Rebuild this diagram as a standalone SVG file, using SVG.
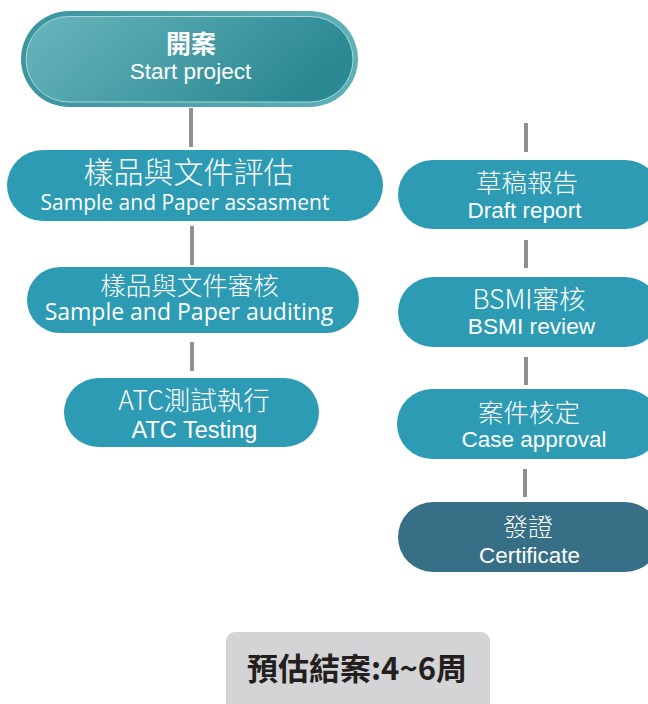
<svg xmlns="http://www.w3.org/2000/svg" width="648" height="704" viewBox="0 0 648 704">
<defs>
<linearGradient id="gStart" x1="0" y1="0" x2="1" y2="0.3">
<stop offset="0" stop-color="#6ab6bd"/>
<stop offset="1" stop-color="#2b8993"/>
</linearGradient>
<linearGradient id="gRing" x1="0" y1="0" x2="1" y2="0">
<stop offset="0" stop-color="#3a959e"/>
<stop offset="1" stop-color="#5fb0b8"/>
</linearGradient>
<style>
.node{fill:#2c9bb3}
.cert{fill:#366f86}
.conn line{stroke:#8e8e93;stroke-width:4}
.t{fill:#ffffff;text-anchor:middle}
.cjk{font-family:"Noto Sans CJK TC","Noto Sans",sans-serif;font-weight:300}
.os{font-family:"Open Sans","Noto Sans",sans-serif}
.ar{font-family:"Liberation Sans",Arial,sans-serif}
</style>
</defs>
<rect width="648" height="704" fill="#ffffff"/>
<g id="connectors" class="conn">
<line x1="191" y1="108" x2="191" y2="147"/>
<line x1="192" y1="226" x2="192" y2="265"/>
<line x1="192" y1="342" x2="192" y2="371"/>
<line x1="526" y1="123" x2="526" y2="152"/>
<line x1="526" y1="240" x2="526" y2="268"/>
<line x1="526" y1="357" x2="526" y2="385"/>
<line x1="525" y1="469" x2="525" y2="497"/>
</g>
<g id="start">
<rect x="21" y="11" width="337" height="96" rx="48" fill="url(#gRing)"/>
<rect x="26" y="16.5" width="327" height="85.5" rx="42.75" fill="url(#gStart)" stroke="#a9d6da" stroke-width="1"/>
<text class="t cjk" x="191" y="53" font-size="25" style="font-weight:700">開案</text>
<text class="t ar" x="190.5" y="79" font-size="22.5">Start project</text>
</g>
<g id="assess">
<rect class="node" x="7" y="150" width="376" height="71" rx="35.5"/>
<text class="t cjk" x="188.5" y="183" font-size="30">樣品與文件評估</text>
<text class="t os" x="185" y="210" font-size="21">Sample and Paper assasment</text>
</g>
<g id="audit">
<rect class="node" x="27" y="267" width="332" height="66" rx="33"/>
<text class="t cjk" x="189.5" y="295" font-size="25.5">樣品與文件審核</text>
<text class="t os" x="189" y="320" font-size="23">Sample and Paper auditing</text>
</g>
<g id="atc">
<rect class="node" x="64" y="378" width="255" height="69" rx="34.5"/>
<text class="t cjk" x="194" y="410" font-size="26.5">ATC測試執行</text>
<text class="t ar" x="194.5" y="438" font-size="23.5">ATC Testing</text>
</g>
<g id="draft">
<rect class="node" x="398" y="160" width="262" height="69" rx="34.5"/>
<text class="t cjk" x="527" y="192" font-size="25.5">草稿報告</text>
<text class="t ar" x="524.5" y="218" font-size="22.5">Draft report</text>
</g>
<g id="bsmi">
<rect class="node" x="398" y="277" width="262" height="70" rx="35"/>
<text class="t cjk" x="529" y="309" font-size="26.5">BSMI審核</text>
<text class="t ar" x="531.5" y="334" font-size="22.7">BSMI review</text>
</g>
<g id="approval">
<rect class="node" x="397" y="389" width="263" height="70" rx="35"/>
<text class="t cjk" x="529" y="422" font-size="25.5">案件核定</text>
<text class="t ar" x="534" y="447" font-size="22.5">Case approval</text>
</g>
<g id="certificate">
<rect class="cert" x="398" y="502" width="262" height="70" rx="35"/>
<text class="t cjk" x="528" y="536" font-size="25">發證</text>
<text class="t ar" x="529.5" y="563" font-size="22.4">Certificate</text>
</g>
<g id="estimate">
<rect x="226" y="632" width="264" height="90" rx="9" fill="#d4d4d6"/>
<text x="357" y="680" font-size="31" text-anchor="middle" fill="#231f20" font-family="'Noto Sans CJK TC','Noto Sans',sans-serif" font-weight="700">預估結案:4~6周</text>
</g>
</svg>
